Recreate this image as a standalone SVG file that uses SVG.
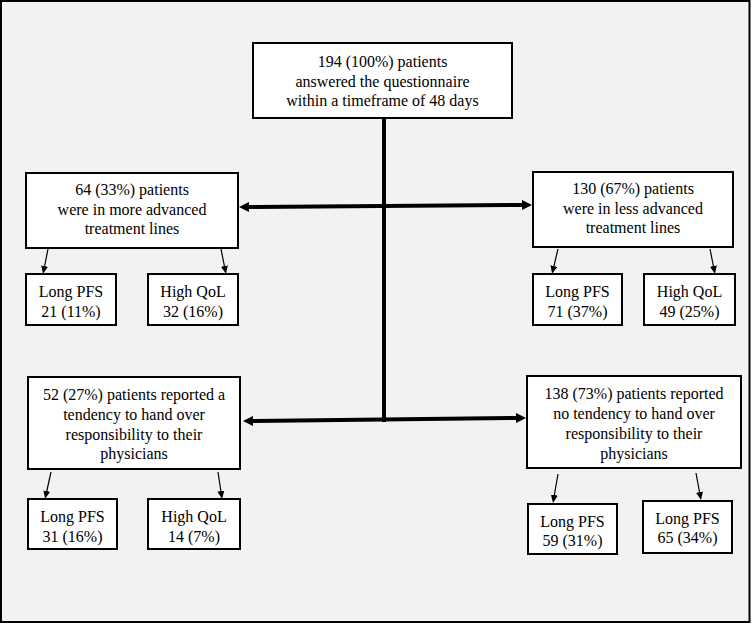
<svg xmlns="http://www.w3.org/2000/svg" width="752" height="624" viewBox="0 0 752 624">
<defs>
<style>
.box{fill:#ffffff;stroke:#000;stroke-width:2}
.t{font-family:"Liberation Serif","Times New Roman",serif;font-size:16px;fill:#000;text-anchor:middle}
.thick{stroke:#000;stroke-width:4;fill:none}
.thin{stroke:#000;stroke-width:1.2;fill:none}
</style>
<marker id="bigHead" markerUnits="userSpaceOnUse" markerWidth="12" markerHeight="12" refX="1" refY="5" orient="auto-start-reverse">
<path d="M0,0 L10,5 L0,10 z" fill="#000"/>
</marker>
<marker id="smallHead" markerUnits="userSpaceOnUse" markerWidth="10" markerHeight="10" refX="1" refY="3.5" orient="auto">
<path d="M0,0 L8,3.5 L0,7 z" fill="#000"/>
</marker>
</defs>
<rect x="1" y="1" width="748.5" height="621" fill="#f2f2f2" stroke="#000" stroke-width="2"/>
<g id="connectors">
<line class="thick" x1="384" y1="118" x2="384" y2="422"/>
<line class="thick" x1="248" y1="207" x2="523" y2="205" marker-start="url(#bigHead)" marker-end="url(#bigHead)"/>
<line class="thick" x1="252" y1="421" x2="517" y2="418" marker-start="url(#bigHead)" marker-end="url(#bigHead)"/>
<line class="thin" x1="48" y1="249" x2="44.4" y2="267" marker-end="url(#smallHead)"/>
<line class="thin" x1="221" y1="249" x2="224.6" y2="267" marker-end="url(#smallHead)"/>
<line class="thin" x1="558" y1="249" x2="553.7" y2="267" marker-end="url(#smallHead)"/>
<line class="thin" x1="710" y1="249" x2="713.6" y2="267" marker-end="url(#smallHead)"/>
<line class="thin" x1="51" y1="472" x2="46.6" y2="492" marker-end="url(#smallHead)"/>
<line class="thin" x1="218" y1="472" x2="221" y2="492" marker-end="url(#smallHead)"/>
<line class="thin" x1="558" y1="474" x2="554.2" y2="496" marker-end="url(#smallHead)"/>
<line class="thin" x1="696" y1="473" x2="699.7" y2="493" marker-end="url(#smallHead)"/>
</g>
<g id="top">
<rect class="box" x="253" y="43" width="259" height="75"/>
<text class="t" x="382.5" y="67">194 (100%) patients</text>
<text class="t" x="382.5" y="87">answered the questionnaire</text>
<text class="t" x="382.5" y="106">within a timeframe of 48 days</text>
</g>
<g id="moreAdvanced">
<rect class="box" x="26" y="173" width="212" height="75"/>
<text class="t" x="132" y="195">64 (33%) patients</text>
<text class="t" x="132" y="215">were in more advanced</text>
<text class="t" x="132" y="234">treatment lines</text>
</g>
<g id="lessAdvanced">
<rect class="box" x="533" y="172" width="200" height="75"/>
<text class="t" x="633" y="194">130 (67%) patients</text>
<text class="t" x="633" y="214">were in less advanced</text>
<text class="t" x="633" y="233">treatment lines</text>
</g>
<g id="more-pfs">
<rect class="box" x="26" y="274" width="90" height="51"/>
<text class="t" x="71" y="297">Long PFS</text>
<text class="t" x="71" y="317">21 (11%)</text>
</g>
<g id="more-qol">
<rect class="box" x="148" y="274" width="90" height="51"/>
<text class="t" x="193" y="297">High QoL</text>
<text class="t" x="193" y="317">32 (16%)</text>
</g>
<g id="less-pfs">
<rect class="box" x="533" y="274" width="89" height="51"/>
<text class="t" x="577.5" y="297">Long PFS</text>
<text class="t" x="577.5" y="317">71 (37%)</text>
</g>
<g id="less-qol">
<rect class="box" x="644" y="274" width="91" height="51"/>
<text class="t" x="689.5" y="297">High QoL</text>
<text class="t" x="689.5" y="317">49 (25%)</text>
</g>
<g id="handOver">
<rect class="box" x="28" y="377" width="212" height="92"/>
<text class="t" x="134" y="400">52 (27%) patients reported a</text>
<text class="t" x="134" y="420">tendency to hand over</text>
<text class="t" x="134" y="440">responsibility to their</text>
<text class="t" x="134" y="459">physicians</text>
</g>
<g id="noHandOver">
<rect class="box" x="527" y="376" width="214" height="92"/>
<text class="t" x="634" y="399">138 (73%) patients reported</text>
<text class="t" x="634" y="419">no tendency to hand over</text>
<text class="t" x="634" y="439">responsibility to their</text>
<text class="t" x="634" y="459">physicians</text>
</g>
<g id="hand-pfs">
<rect class="box" x="28" y="499" width="89" height="50"/>
<text class="t" x="72.5" y="522">Long PFS</text>
<text class="t" x="72.5" y="542">31 (16%)</text>
</g>
<g id="hand-qol">
<rect class="box" x="148" y="499" width="92" height="50"/>
<text class="t" x="194" y="522">High QoL</text>
<text class="t" x="194" y="542">14 (7%)</text>
</g>
<g id="nohand-pfs1">
<rect class="box" x="528" y="504" width="89" height="50"/>
<text class="t" x="572.5" y="527">Long PFS</text>
<text class="t" x="572.5" y="546">59 (31%)</text>
</g>
<g id="nohand-pfs2">
<rect class="box" x="643" y="501" width="89" height="52"/>
<text class="t" x="687.5" y="524">Long PFS</text>
<text class="t" x="687.5" y="543">65 (34%)</text>
</g>
</svg>
